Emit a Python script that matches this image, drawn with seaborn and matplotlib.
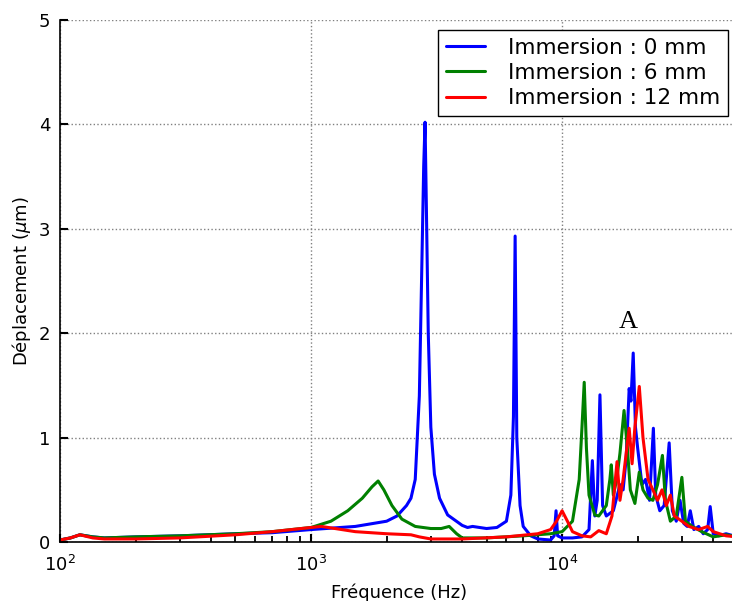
import numpy as np
import matplotlib
matplotlib.use("Agg")
import matplotlib.pyplot as plt
import seaborn as sns
import pandas as pd

# values (Hz, um)
freq_0 = [100, 110, 120, 135, 150, 200, 300, 500, 700, 1000, 1500, 2000, 2200, 2400,
          2500, 2600, 2700, 2760, 2810, 2845, 2880, 2930, 3000, 3100, 3250, 3500,
          4000, 4200, 4400, 5000, 5500, 6000, 6250, 6400, 6500, 6600, 6800, 7000,
          7500, 8000, 9000, 9300, 9460, 9600, 10000, 11000, 12000, 12800, 13200,
          13500, 13800, 14150, 14500, 15000, 16000, 17000, 17500, 18000, 18500,
          18800, 19200, 19600, 20000, 20800, 21500, 22300, 23100, 23600, 24500,
          25500, 26700, 27500, 28500, 29500, 30500, 31500, 32400, 33500, 35000,
          36500, 38000, 38900, 40000, 42000, 45000, 50000]
disp_0 = [0.02, 0.04, 0.07, 0.05, 0.04, 0.05, 0.06, 0.08, 0.09, 0.12, 0.15, 0.2, 0.25, 0.35,
          0.42, 0.6, 1.4, 2.6, 3.6, 4.02, 3.2, 2.0, 1.1, 0.65, 0.42, 0.26,
          0.16, 0.14, 0.15, 0.13, 0.14, 0.2, 0.45, 1.2, 2.93, 1.0, 0.35, 0.15,
          0.06, 0.03, 0.02, 0.06, 0.3, 0.06, 0.04, 0.04, 0.05, 0.12, 0.78,
          0.25, 0.4, 1.41, 0.35, 0.25, 0.3, 0.55, 0.5, 0.8, 1.47,
          1.35, 1.81, 1.1, 0.9, 0.55, 0.6, 0.4, 1.09, 0.45, 0.3,
          0.35, 0.95, 0.3, 0.2, 0.4, 0.18, 0.15, 0.3, 0.12, 0.15,
          0.08, 0.12, 0.34, 0.08, 0.06, 0.08, 0.05]

freq_6 = [100, 110, 120, 135, 150, 200, 300, 500, 700, 1000, 1200, 1400, 1600, 1750,
          1850, 1950, 2100, 2300, 2600, 3000, 3300, 3550, 3800, 4000, 5000, 7000,
          9000, 10000, 11000, 11700, 12000, 12250, 12500, 12800, 13500, 14000,
          15000, 15500, 15700, 16000, 16500, 17000, 17650, 18200, 18700, 19500,
          20300, 21000, 22000, 23000, 24000, 25100, 25800, 27000, 28500, 30000,
          31000, 33000, 36000, 40000, 45000, 50000]
disp_6 = [0.02, 0.04, 0.07, 0.05, 0.04, 0.05, 0.06, 0.08, 0.1, 0.14, 0.2, 0.3, 0.42, 0.53,
          0.585, 0.5, 0.35, 0.22, 0.15, 0.13, 0.13, 0.15, 0.08, 0.04, 0.04, 0.06,
          0.08, 0.1, 0.2, 0.6, 1.1, 1.53, 0.9, 0.45, 0.26, 0.25,
          0.35, 0.6, 0.74, 0.45, 0.6, 0.85, 1.26, 0.9, 0.5, 0.37,
          0.67, 0.5, 0.42, 0.4, 0.55, 0.83, 0.4, 0.2, 0.25, 0.62,
          0.2, 0.15, 0.1, 0.05, 0.07, 0.05]

freq_12 = [100, 110, 120, 135, 150, 200, 300, 500, 700, 1000, 1100, 1500, 2000, 2500,
           2700, 3000, 4000, 6000, 8000, 9000, 9500, 10000, 10500, 11000, 12000,
           13000, 14000, 15000, 15800, 16550, 17000, 17500, 18500, 19000, 19500,
           20300, 21000, 22000, 23000, 24000, 25000, 26000, 27000, 28000, 30000,
           32000, 35000, 38000, 40000, 45000, 50000]
disp_12 = [0.02, 0.04, 0.07, 0.04, 0.03, 0.03, 0.04, 0.07, 0.1, 0.14, 0.15, 0.1, 0.08, 0.07,
           0.05, 0.03, 0.03, 0.05, 0.08, 0.12, 0.2, 0.3, 0.2, 0.1, 0.06,
           0.05, 0.11, 0.08, 0.25, 0.77, 0.4, 0.6, 1.09, 0.75, 1.1,
           1.49, 1.0, 0.6, 0.5, 0.4, 0.5, 0.35, 0.45, 0.25, 0.2,
           0.15, 0.12, 0.15, 0.1, 0.06, 0.05]

labels = ["Immersion : 0 mm", "Immersion : 6 mm", "Immersion : 12 mm"]
colors = ["blue", "green", "red"]

df = pd.concat([
    pd.DataFrame({"Fréquence": freq_0, "Déplacement": disp_0, "serie": labels[0]}),
    pd.DataFrame({"Fréquence": freq_6, "Déplacement": disp_6, "serie": labels[1]}),
    pd.DataFrame({"Fréquence": freq_12, "Déplacement": disp_12, "serie": labels[2]}),
])

sns.set_style("white")
plt.rcParams["font.family"] = ["DejaVu Sans"]
plt.rcParams["text.color"] = "black"
plt.rcParams["axes.labelcolor"] = "black"
plt.rcParams["xtick.color"] = "black"
plt.rcParams["ytick.color"] = "black"

fig = plt.figure(figsize=(7.32, 6.01), dpi=100)
ax = fig.add_axes([0.082, 0.098, 0.9256, 0.869])
sns.lineplot(data=df, x="Fréquence", y="Déplacement", hue="serie",
             palette=colors, linewidth=2.2, ax=ax)

ax.set_xscale("log")
ax.set_xlim(100, 50000)
ax.set_ylim(0, 5)
ax.set_yticks([0, 1, 2, 3, 4, 5])
ax.grid(True, which="major", linestyle=":", color="0.5", linewidth=1)
ax.spines["top"].set_visible(False)
ax.spines["right"].set_visible(False)
for s in ["left", "bottom"]:
    ax.spines[s].set_color("black")
    ax.spines[s].set_linewidth(1.2)
ax.tick_params(axis="both", which="major", direction="in", length=6, width=1.5,
               labelsize=13, left=True, bottom=True)
ax.tick_params(axis="x", which="major", pad=9)
ax.tick_params(axis="y", which="major", pad=7)
ax.tick_params(axis="x", which="minor", direction="in", length=4, width=1.3, bottom=True)
ax.set_xlabel("Fréquence (Hz)", fontsize=13, labelpad=6)
ax.set_ylabel(r"Déplacement ($\mu$m)", fontsize=13, labelpad=4)

ax.legend(loc="upper right", bbox_to_anchor=(728 / 732, 1 - 30 / 601),
          bbox_transform=fig.transFigure, fontsize=15.5, frameon=True,
          fancybox=False, edgecolor="black", framealpha=1, handlelength=1.8,
          borderpad=0.35, labelspacing=0.25, handletextpad=1.1, borderaxespad=0)
ax.get_legend().get_frame().set_linewidth(1)

ax.text(18300, 2.0, "A", fontsize=19, family="Liberation Serif", ha="center", va="bottom")

fig.savefig("out.png", dpi=100)
